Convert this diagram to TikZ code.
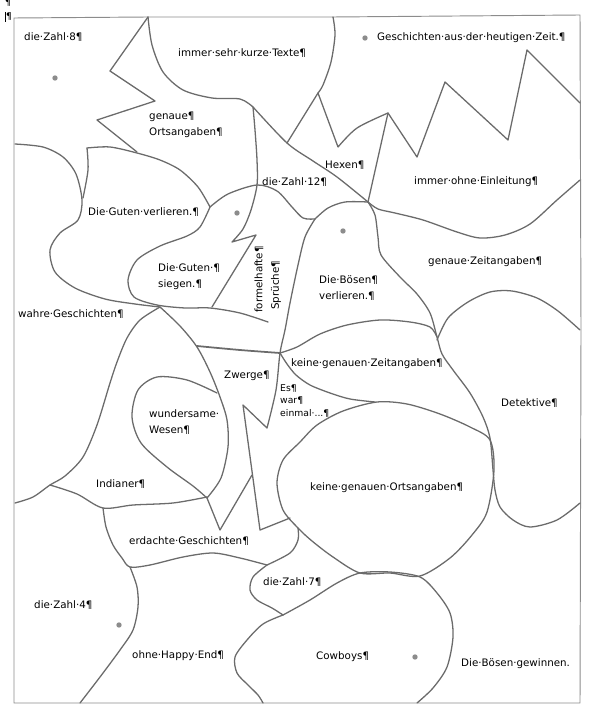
\documentclass[tikz,border=0pt]{standalone}
\usepackage{fontspec}
\setmainfont{DejaVu Sans}
\newcommand{\tagsize}{\fontsize{8.8}{13.7}\selectfont}
\newcommand{\smalltagsize}{\fontsize{7.9}{10.7}\selectfont}
\begin{document}
\begin{tikzpicture}[x=0.03cm, y=-0.03cm,
  outline/.style={draw=black!58, line width=1.1pt, line join=round, line cap=round},
  frame/.style={draw=black!45, line width=0.8pt},
  word/.style={font=\tagsize, anchor=west, inner sep=0pt, align=left},
  spot/.style={fill=black!45, draw=none}]
\useasboundingbox (0,0) rectangle (590,707);
\draw[frame] (14,18) -- (148,17) -- (333,17) -- (580,15) -- (581,330) -- (580,703) -- (14,703) -- cycle;
\node[font=\smalltagsize, inner sep=0pt] (markA) at (8,3) {¶};
\node[font=\smalltagsize, inner sep=0pt] (markB) at (9,17) {¶};
\draw[black, line width=0.6pt] (5,12) -- (5,22);
% top row
\draw[outline] (148,17) -- (110,71) -- (155,101) -- (97,120) -- (137,152);
\draw[outline] plot[smooth] coordinates {(148,17) (152,45) (163,72) (183,90) (212,98) (240,99) (253,107)};
\draw[outline] plot[smooth] coordinates {(253,107) (287,143) (313,161) (337,177) (368,202)};
\draw[outline] plot[smooth] coordinates {(253,107) (255,130) (257,160) (257,185) (251,210) (243,229) (232,242)} -- (256,235) -- (212,307);
\draw[outline] plot[smooth] coordinates {(333,17) (335,35) (331,62) (323,85) (318,93)} -- (287,143);
\draw[outline] (318,93) -- (338,147) plot[smooth] coordinates {(338,147) (357,128) (388,113)} -- (417,157) -- (445,82) -- (508,140) -- (527,50) -- (580,103);
\draw[outline] (388,113) -- (368,202);
\draw[outline] plot[smooth] coordinates {(368,202) (378,209) (395,213) (423,220) (457,232) (480,238) (505,235) (530,224) (557,200) (580,180)};
% middle
\draw[outline] plot[smooth] coordinates {(87,148) (110,147) (137,153) (160,160) (180,170) (198,187) (210,207)};
\draw[outline] plot[smooth] coordinates {(87,148) (88,170) (83,198)};
\draw[outline] plot[smooth] coordinates {(210,207) (228,194) (257,185) (277,191) (292,207) (303,218) (315,219)};
\draw[outline] plot[smooth] coordinates {(315,219) (328,208) (345,202) (368,202)};
\draw[outline] plot[smooth] coordinates {(315,219) (305,237) (298,265) (290,303) (285,330) (280,353) (276,390) (267,428)} -- (243,405) -- (260,530) -- (290,518);
\draw[outline] plot[smooth] coordinates {(368,202) (375,215) (378,237) (381,255) (400,277) (417,294) (430,313) (437,337) (442,354) (453,370) (470,393) (483,417) (490,438) (493,470) (495,490) (500,507) (513,520) (530,527) (557,520) (580,503)};
\draw[outline] plot[smooth] coordinates {(280,353) (297,347) (320,334) (347,325) (380,320) (410,322) (430,327) (437,337)};
\draw[outline, line width=1.5pt] plot[smooth] coordinates {(197,346) (240,350) (280,353)};
\draw[outline] plot[smooth] coordinates {(280,353) (287,364) (296,375) (310,385) (330,393) (350,399) (375,402)};
\draw[outline] plot[smooth cycle] coordinates {(298,528) (283,510) (277,483) (283,460) (300,442) (317,425) (343,411) (377,402) (407,404) (440,414) (470,427) (490,440) (494,470) (487,512) (472,535) (450,558) (420,576) (390,573) (360,573) (333,557) (312,541)};
\draw[outline] plot[smooth] coordinates {(437,340) (448,318) (468,302) (490,292) (512,291) (537,298) (558,311) (580,330)};
% left side
\draw[outline] plot[smooth] coordinates {(15,144) (43,147) (63,157) (76,174) (82,200) (78,220) (60,233) (50,250) (55,272) (75,288) (105,299) (135,304) (160,307)};
\draw[outline] plot[smooth] coordinates {(210,207) (200,227) (187,236) (160,246) (137,260) (128,280) (134,297) (157,305) (185,308) (210,308) (240,313) (268,322)};
\draw[outline] plot[smooth] coordinates {(160,307) (140,320) (127,338) (117,362) (110,383) (97,425) (83,457) (65,476) (50,485) (33,497) (15,503)};
\draw[outline] plot[smooth] coordinates {(160,307) (180,326) (197,347) (210,372) (220,397) (227,420) (228,447) (221,478) (207,498)};
\draw[outline] plot[smooth] coordinates {(217,393) (187,380) (157,377) (138,390) (132,417) (141,443) (167,467) (193,486) (207,498)};
\draw[outline] plot[smooth] coordinates {(50,485) (77,494) (103,508) (133,505) (173,503) (207,497)};
\draw[outline] (252,475) -- (220,530) -- (207,498);
% bottom row
\draw[outline] plot[smooth] coordinates {(103,508) (106,527) (113,545) (122,558) (130,567) (150,565) (183,557) (213,553) (240,558) (267,565)};
\draw[outline] plot[smooth] coordinates {(267,565) (290,553) (298,540) (298,528)};
\draw[outline] plot[smooth] coordinates {(267,565) (253,577) (250,590) (257,600) (272,608) (283,615)};
\draw[outline] plot[smooth] coordinates {(283,615) (310,600) (337,583) (360,573) (390,572) (420,577) (437,593) (450,613) (453,637) (447,667) (433,688) (417,703)};
\draw[outline] plot[smooth] coordinates {(283,615) (263,624) (247,640) (235,657) (237,673) (248,685) (258,695) (263,703)};
\draw[outline] plot[smooth] coordinates {(130,567) (137,587) (138,607) (133,630) (120,650) (100,677) (80,703)};
% dots
\fill[spot] (55,78) circle[radius=2.3pt];
\fill[spot] (365,38) circle[radius=2.3pt];
\fill[spot] (237,213) circle[radius=2.3pt];
\fill[spot] (343,231) circle[radius=2.3pt];
\fill[spot] (119,625) circle[radius=2.3pt];
\fill[spot] (415,657) circle[radius=2.3pt];
% labels
\node[word] (zahl8) at (24,37) {die·Zahl·8¶};
\node[word] (kurze) at (178,53) {immer·sehr·kurze·Texte¶};
\node[word] (heute) at (377,38) {Geschichten·aus·der·heutigen·Zeit.¶};
\node[word] (orte) at (149,125) {genaue¶\\Ortsangaben¶};
\node[word] (hexen) at (325,165) {Hexen¶};
\node[word] (zahl12) at (262,182) {die·Zahl·12¶};
\node[word] (einleitung) at (414,182) {immer·ohne·Einleitung¶};
\node[word] (gverl) at (88,212) {Die·Guten·verlieren.¶};
\node[word] (gsieg) at (158,277) {Die·Guten·¶\\siegen.¶};
\node[word, rotate=90] (formel) at (259,313) {formelhafte¶};
\node[word, rotate=90] (sprueche) at (276,310) {Sprüche¶};
\node[word] (bverl) at (319,288) {Die·Bösen¶\\verlieren.¶};
\node[word] (zeiten) at (428,262) {genaue·Zeitangaben¶};
\node[word] (wahr) at (18,314) {wahre·Geschichten¶};
\node[word] (keinezeit) at (291,364) {keine·genauen·Zeitangaben¶};
\node[word] (zwerge) at (224,376) {Zwerge¶};
\node[word, font=\smalltagsize] (einmal) at (280,401) {Es¶\\war¶\\einmal·...¶};
\node[word] (wesen) at (149,422) {wundersame·\\Wesen¶};
\node[word] (detektive) at (501,403) {Detektive¶};
\node[word] (indianer) at (96,484) {Indianer¶};
\node[word] (keineorte) at (310,488) {keine·genauen·Ortsangaben¶};
\node[word] (erdacht) at (129,541) {erdachte·Geschichten¶};
\node[word] (zahl7) at (263,582) {die·Zahl·7¶};
\node[word] (zahl4) at (34,605) {die·Zahl·4¶};
\node[word] (happy) at (132,656) {ohne·Happy·End¶};
\node[word] (cowboys) at (316,657) {Cowboys¶};
\node[word] (bgew) at (461,664) {Die·Bösen·gewinnen.};
\end{tikzpicture}
\end{document}
